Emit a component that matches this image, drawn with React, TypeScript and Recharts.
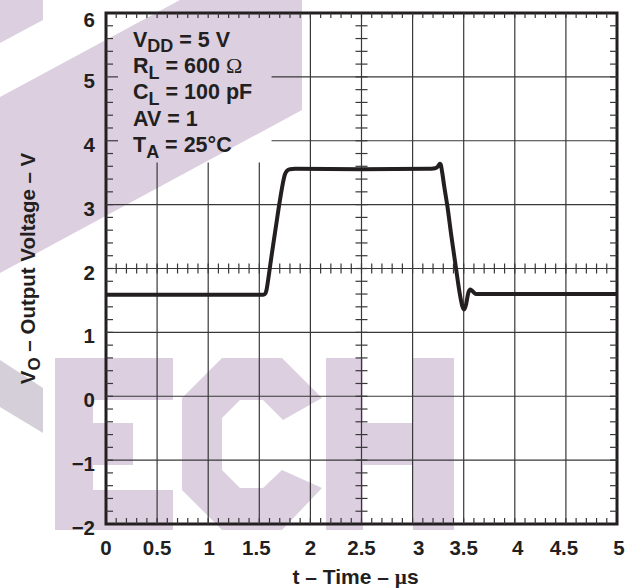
import React from 'react';
import { LineChart, Line, XAxis, YAxis, ReferenceLine, ReferenceArea, Label } from 'recharts';

// ---- data ----
const TIME_US = [0, 1.54, 1.555, 1.57, 1.59, 1.62, 1.66, 1.7, 1.73, 1.75, 1.77, 1.8, 1.85, 2.5, 3.15, 3.22, 3.25, 3.265, 3.275, 3.29, 3.31, 3.34, 3.38, 3.425, 3.46, 3.485, 3.505, 3.525, 3.545, 3.565, 3.59, 3.62, 3.66, 5];
const OUTPUT_V = [1.59, 1.59, 1.6, 1.66, 1.86, 2.2, 2.63, 3.05, 3.33, 3.47, 3.53, 3.555, 3.56, 3.555, 3.56, 3.57, 3.6, 3.64, 3.63, 3.5, 3.28, 2.98, 2.5, 2.0, 1.62, 1.42, 1.36, 1.45, 1.62, 1.67, 1.64, 1.6, 1.6, 1.6];

const X_TICKS = [0, 0.5, 1, 1.5, 2, 2.5, 3, 3.5, 4, 4.5, 5];
const X_TICK_LABELS = ['0', '0.5', '1', '1.5', '2', '2.5', '3', '3.5', '4', '4.5', '5'];
const Y_TICKS = [-2, -1, 0, 1, 2, 3, 4, 5, 6];
const Y_TICK_LABELS = ['\u22122', '\u22121', '0', '1', '2', '3', '4', '5', '6'];
const X_GRID = [0.5, 1, 1.5, 2, 2.5, 3, 3.5, 4, 4.5];
const Y_GRID = [-1, 0, 1, 2, 3, 4, 5];
const X_MINOR = Array.from({ length: 49 }, (_, i) => (i + 1) / 10);
const Y_MINOR = Array.from({ length: 39 }, (_, i) => Math.round((-2 + (i + 1) * 0.2) * 10) / 10);

const CONDITIONS = [
  { main: 'V', sub: 'DD', rest: ' = 5 V' },
  { main: 'R', sub: 'L', rest: ' = 600 ', sym: '\u03A9' },
  { main: 'C', sub: 'L', rest: ' = 100 pF' },
  { main: 'AV = 1', sub: '', rest: '' },
  { main: 'T', sub: 'A', rest: ' = 25\u00B0C' },
];

const data = TIME_US.map((t, i) => ({ t, v: OUTPUT_V[i] }));

// ---- layout / style ----
const W = 628;
const H = 588;
const X_DOMAIN: [number, number] = [0, 5];
const Y_DOMAIN: [number, number] = [-2, 6];
const PLOT_W = 511;
const PLOT_H = 511;
const DX = 5 / PLOT_W; // µs per px
const DV = 8 / PLOT_H; // V per px
const BOX_T = 1.62; // annotation box extent
const BOX_V = 3.66;
const INK = '#231f20';
const GRID = '#383838';
const FONT = '"Liberation Sans", Arial, Helvetica, sans-serif';
const SERIF = '"Liberation Serif", "Times New Roman", serif';
const TICK_FS = 20.5;
const X_LABEL_NUDGE = [0, 0, 1, -3, 0, 0, 6, 0, 3, -2, 2];

const XTick = (props: any) => {
  const { x, y, payload } = props;
  const idx = X_TICKS.indexOf(payload.value);
  const lbl = X_TICK_LABELS[idx] ?? String(payload.value);
  return (
    <text x={x + (X_LABEL_NUDGE[idx] || 0)} y={y + 30.5} textAnchor="middle" fontFamily={FONT} fontWeight="bold" fontSize={TICK_FS} fill={INK}>
      {lbl}
    </text>
  );
};

const YTick = (props: any) => {
  const { x, y, payload } = props;
  const lbl = Y_TICK_LABELS[Y_TICKS.indexOf(payload.value)] ?? String(payload.value);
  const dy = payload.value === 6 ? 13.5 : 11;
  return (
    <text x={x - 11} y={y + dy} textAnchor="end" fontFamily={FONT} fontWeight="bold" fontSize={TICK_FS} fill={INK}>
      {lbl}
    </text>
  );
};

const XTitle = (props: any) => {
  const vb = props.viewBox || { x: 106, y: 524, width: 511, height: 64 };
  return (
    <text x={vb.x + vb.width / 2 - 6} y={vb.y + 60} textAnchor="middle" fontFamily={FONT} fontWeight="bold" fontSize={21} fill={INK}>
      t – Time – <tspan fontFamily={SERIF}>µ</tspan>s
    </text>
  );
};

const YTitle = (props: any) => {
  const vb = props.viewBox || { x: 0, y: 13, width: 106, height: 511 };
  const cx = vb.x + 35;
  const cy = vb.y + vb.height / 2;
  return (
    <text x={cx} y={cy} transform={`rotate(-90 ${cx} ${cy})`} textAnchor="middle" fontFamily={FONT} fontWeight="bold" fontSize={20.5} fill={INK}>
      V<tspan dy={5} fontSize={17}>O</tspan>
      <tspan dy={-5}> – Output Voltage – V</tspan>
    </text>
  );
};

const ConditionsLabel = (props: any) => {
  const vb = props.viewBox || { x: 106, y: 13 };
  const x0 = vb.x + 27;
  const base = [33.5, 60, 86, 113, 139];
  return (
    <g>
      {CONDITIONS.map((c, i) => (
        <text key={i} x={x0} y={vb.y + base[i]} fontFamily={FONT} fontWeight="bold" fontSize={21.5} fill={INK}>
          {c.main}
          {c.sub ? (
            <tspan dy={5.5} fontSize={18}>
              {c.sub}
            </tspan>
          ) : null}
          {c.rest ? <tspan dy={c.sub ? -5.5 : 0}>{c.rest}</tspan> : null}
          {c.sym ? (
            <tspan fontFamily={SERIF} fontWeight="normal" fontSize={22}>
              {c.sym}
            </tspan>
          ) : null}
        </text>
      ))}
    </g>
  );
};

const seg = (key: string, x1: number, y1: number, x2: number, y2: number, w = 1.2) => (
  <ReferenceLine
    key={key}
    segment={[
      { x: x1, y: y1 },
      { x: x2, y: y2 },
    ]}
    stroke={GRID}
    strokeWidth={w}
    ifOverflow="visible"
  />
);

const Watermark = () => (
  <svg width={W} height={H} style={{ position: 'absolute', left: 0, top: 0 }}>
    <g fill="#dccfe0">
      <polygon points="0,0 43,0 43,20 0,43" />
      <polygon points="0,97 180,0 302,0 302,110 0,273" />
      <polygon points="55,358 173,358 173,400 93,400 93,423 133,423 133,465 93,465 93,490 173,490 173,530 55,530" />
      <polygon points="222,358 282,358 322,398 283,420 263,400 240,400 222,418 222,470 240,488 263,488 282,470 322,488 282,530 222,530 182,490 182,398" />
      <polygon points="326,358 363,358 363,423 413,423 413,358 454,358 454,530 413,530 413,465 363,465 363,530 326,530" />
    </g>
    <polygon points="0,360 43,388 43,433 0,407" fill="#d4cfd9" />
  </svg>
);

export default function App() {
  const lines: React.ReactNode[] = [];
  // grid (interrupted by the conditions box)
  X_GRID.forEach((x) => {
    lines.push(seg(`gx${x}`, x, -2, x, x < BOX_T ? BOX_V : 6));
  });
  Y_GRID.forEach((y) => {
    lines.push(seg(`gy${y}`, y > BOX_V ? BOX_T : 0, y, 5, y));
  });
  // minor ticks on the frame and the centre cross
  X_MINOR.forEach((t) => {
    lines.push(seg(`tt${t}`, t, 6, t, 6 - 5 * DV));
    lines.push(seg(`tb${t}`, t, -2, t, -2 + 6 * DV));
    lines.push(seg(`tc${t}`, t, 2 - 5 * DV, t, 2 + 5 * DV));
  });
  Y_MINOR.forEach((v) => {
    const long = Y_GRID.includes(v) && v > BOX_V;
    lines.push(seg(`tl${v}`, 0, v, (long ? 12 : 7) * DX, v));
    lines.push(seg(`tr${v}`, 5, v, 5 - 7 * DX, v));
    lines.push(seg(`tm${v}`, 2.5 - 6 * DX, v, 2.5 + 6 * DX, v));
  });

  return (
    <div style={{ position: 'absolute', left: 0, top: 0, width: W, height: H, background: '#fff', overflow: 'hidden' }}>
      <Watermark />
      <div style={{ position: 'absolute', left: 0, top: 0 }}>
        <LineChart width={W} height={H} data={data} margin={{ top: 13, right: 11, bottom: 0, left: 0 }}>
          <XAxis
            dataKey="t"
            type="number"
            domain={X_DOMAIN}
            ticks={X_TICKS}
            interval={0}
            tickLine={false}
            axisLine={false}
            tickSize={0}
            tickMargin={0}
            height={64}
            tick={<XTick />}
            allowDataOverflow
          >
            <Label content={<XTitle />} />
          </XAxis>
          <YAxis
            type="number"
            domain={Y_DOMAIN}
            ticks={Y_TICKS}
            interval={0}
            tickLine={false}
            axisLine={false}
            tickSize={0}
            tickMargin={0}
            width={106}
            tick={<YTick />}
            allowDataOverflow
          >
            <Label content={<YTitle />} />
          </YAxis>
          {lines}
          <ReferenceArea
            x1={0}
            x2={BOX_T}
            y1={BOX_V}
            y2={6}
            fill="none"
            fillOpacity={0}
            stroke="none"
            ifOverflow="visible"
            label={<ConditionsLabel />}
          />
          <ReferenceArea x1={0} x2={5} y1={-2} y2={6} fill="none" fillOpacity={0} stroke={INK} strokeWidth={3} ifOverflow="visible" />
          <Line
            type="monotone"
            dataKey="v"
            stroke={INK}
            strokeWidth={4}
            dot={false}
            activeDot={false}
            isAnimationActive={false}
            zIndex={1000}
          />
        </LineChart>
      </div>
    </div>
  );
}
